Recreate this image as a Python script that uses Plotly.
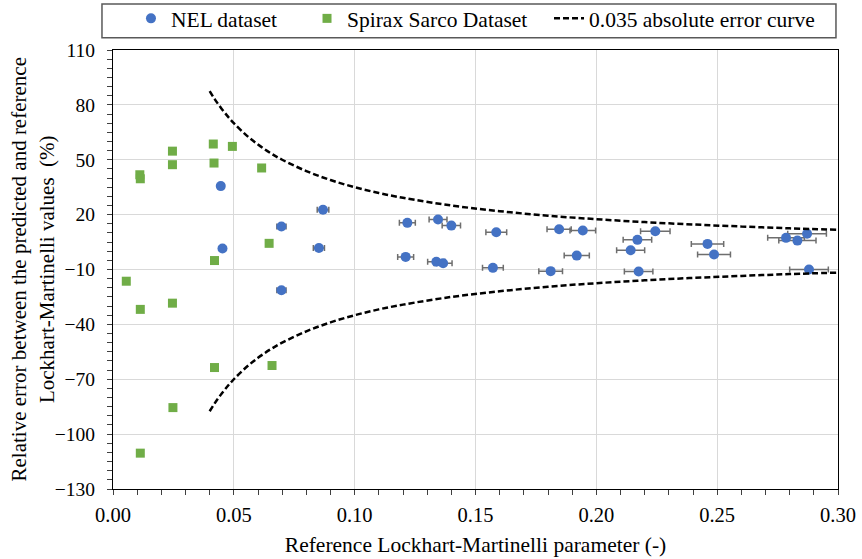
import plotly.graph_objects as go

# ---------------- data ----------------
nel_x = [0.0446, 0.0453, 0.0697, 0.0697, 0.0869, 0.0852, 0.1218, 0.1211, 0.1345, 0.1400,
         0.1338, 0.1366, 0.1586, 0.1572, 0.1846, 0.1811, 0.1944, 0.1919, 0.2244, 0.2170,
         0.2142, 0.2175, 0.2460, 0.2487, 0.2785, 0.2832, 0.2872, 0.2880]
nel_y = [35.6, 1.5, 13.5, -21.3, 22.7, 1.8, 15.5, -3.1, 17.3, 14.0,
         -5.8, -6.6, 10.4, -9.1, 12.0, -10.9, 11.3, -2.4, 10.9, 6.2,
         0.5, -11.1, 4.0, -1.8, 7.3, 5.8, 9.5, -10.0]
nel_xerr = [0.0012, 0.0012, 0.0019, 0.0019, 0.0024, 0.0023, 0.0033, 0.0033, 0.0037, 0.0038,
            0.0036, 0.0037, 0.0043, 0.0043, 0.0050, 0.0049, 0.0053, 0.0052, 0.0061, 0.0059,
            0.0058, 0.0059, 0.0067, 0.0068, 0.0076, 0.0077, 0.0080, 0.0080]

spirax_x = [0.0055, 0.0111, 0.0113, 0.0113, 0.0113, 0.0246, 0.0246, 0.0246, 0.0248,
            0.0415, 0.0418, 0.0420, 0.0420, 0.0494, 0.0615, 0.0646, 0.0658]
spirax_y = [-16.4, 41.8, 39.6, -31.8, -110.4, 54.7, 47.3, -28.4, -85.5,
            58.6, 48.2, -5.1, -63.6, 57.3, 45.5, 4.3, -62.5]

curve_x = [0.040, 0.042, 0.045, 0.048, 0.050, 0.055, 0.060, 0.065, 0.070, 0.080, 0.090,
           0.100, 0.110, 0.120, 0.140, 0.160, 0.180, 0.200, 0.220, 0.240, 0.260, 0.280, 0.300]
curve_upper = [87.5, 83.3, 77.8, 72.9, 70.0, 63.6, 58.3, 53.8, 50.0, 43.8, 38.9,
               35.0, 31.8, 29.2, 25.0, 21.9, 19.4, 17.5, 15.9, 14.6, 13.5, 12.5, 11.7]
curve_lower = [-87.5, -83.3, -77.8, -72.9, -70.0, -63.6, -58.3, -53.8, -50.0, -43.8, -38.9,
               -35.0, -31.8, -29.2, -25.0, -21.9, -19.4, -17.5, -15.9, -14.6, -13.5, -12.5, -11.7]

x_tick_vals = [0.00, 0.05, 0.10, 0.15, 0.20, 0.25, 0.30]
x_tick_text = ["0.00", "0.05", "0.10", "0.15", "0.20", "0.25", "0.30"]
y_tick_vals = [110, 80, 50, 20, -10, -40, -70, -100, -130]

y_title = "Relative error between the predicted and reference<br>Lockhart-Martinelli values\u00a0 (%)"
x_title = "Reference Lockhart-Martinelli parameter (-)"

FONT = "Times New Roman, Liberation Serif, serif"

fig = go.Figure()

fig.add_trace(go.Scatter(
    x=nel_x, y=nel_y, mode="markers", name="NEL dataset",
    marker=dict(symbol="circle", size=10, color="#4472C4"),
    error_x=dict(type="data", array=nel_xerr, visible=True, color="#6e6e6e",
                 thickness=1.5, width=3),
    legend="legend",
))
fig.add_trace(go.Scatter(
    x=spirax_x, y=spirax_y, mode="markers", name="Spirax Sarco Dataset",
    marker=dict(symbol="square", size=9, color="#70AD47"),
    legend="legend2",
))
fig.add_trace(go.Scatter(
    x=curve_x + [None] + curve_x, y=curve_upper + [None] + curve_lower,
    mode="lines", name="0.035 absolute error curve",
    line=dict(color="black", width=2.5, dash="6px,3px", shape="spline"),
    connectgaps=False,
    legend="legend3",
))

legend_common = dict(orientation="h", yanchor="middle", y=1.072, xanchor="left",
                     bgcolor="rgba(0,0,0,0)", borderwidth=0,
                     font=dict(family=FONT, size=21.5, color="black"))

xtick_font = dict(family=FONT, size=20.5, color="black")
ytick_font = dict(family=FONT, size=19.5, color="black")

fig.update_layout(
    width=862, height=559,
    margin=dict(l=113, r=24, t=50, b=70, autoexpand=False),
    paper_bgcolor="white", plot_bgcolor="white",
    font=dict(family=FONT, size=19, color="black"),
    legend=dict(x=0.0248, **legend_common),
    legend2=dict(x=0.2676, **legend_common),
    legend3=dict(x=0.6014, **legend_common),
    xaxis=dict(
        range=[0, 0.30], tickvals=x_tick_vals, ticktext=x_tick_text,
        showgrid=True, gridcolor="#d9d9d9", gridwidth=1.3,
        zeroline=False, showline=True, linecolor="black", linewidth=1.3, mirror=True,
        ticks="outside", ticklen=5, tickcolor="#404040", tickwidth=1.2,
        minor=dict(dtick=0.01, ticks="outside", ticklen=5, tickcolor="#404040", tickwidth=1.2, showgrid=False),
        tickfont=xtick_font,
        ticklabelstandoff=2,
        automargin=False,
        title=dict(text=x_title, font=dict(family=FONT, size=21.5, color="black"), standoff=12),
    ),
    yaxis=dict(
        range=[-130, 110], tickvals=y_tick_vals,
        showgrid=True, gridcolor="#d9d9d9", gridwidth=1.3,
        zeroline=False, showline=True, linecolor="black", linewidth=1.3, mirror=True,
        ticks="outside", ticklen=5, tickcolor="#404040", tickwidth=1.2,
        minor=dict(dtick=5, ticks="outside", ticklen=5, tickcolor="#404040", tickwidth=1.2, showgrid=False),
        tickfont=ytick_font,
        ticklabelstandoff=8,
        automargin=False,
    ),
    annotations=[dict(text=y_title, xref="paper", yref="paper", x=-0.1104, y=0.5,
                      xanchor="center", yanchor="middle", textangle=-90, showarrow=False,
                      font=dict(family=FONT, size=21, color="black"))],
    shapes=[dict(type="rect", xref="paper", yref="paper",
                 x0=-0.0152, x1=0.9972, y0=1.028, y1=1.105,
                 line=dict(color="#595959", width=1.5), fillcolor="rgba(0,0,0,0)")],
    showlegend=True,
)

fig.write_html("out.html", config={"displayModeBar": False},
               post_script="document.body.style.margin='0px';document.body.style.overflow='hidden';")
